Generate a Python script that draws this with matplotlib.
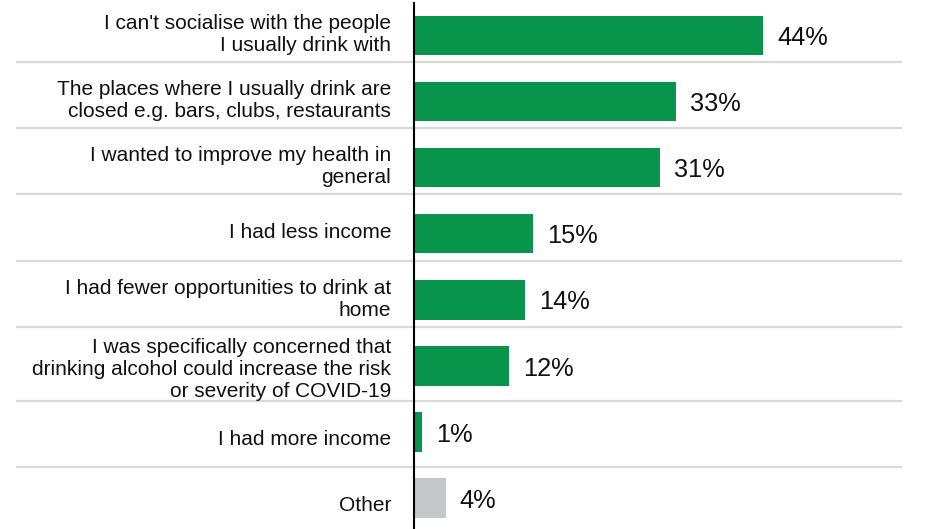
import matplotlib
matplotlib.use("Agg")
import matplotlib.pyplot as plt
from matplotlib.transforms import blended_transform_factory, ScaledTranslation

categories = [
    "I can't socialise with the people\nI usually drink with",
    "The places where I usually drink are\nclosed e.g. bars, clubs, restaurants",
    "I wanted to improve my health in\ngeneral",
    "I had less income",
    "I had fewer opportunities to drink at\nhome",
    "I was specifically concerned that\ndrinking alcohol could increase the risk\nor severity of COVID-19",
    "I had more income",
    "Other",
]
values = [44, 33, 31, 15, 14, 12, 1, 4]
value_labels = ["44%", "33%", "31%", "15%", "14%", "12%", "1%", "4%"]
GREEN = "#08944B"
GREY = "#C6C7C8"
colors = [GREEN] * 7 + [GREY]

plt.rcParams['font.family'] = ['Liberation Sans', 'DejaVu Sans']

fig = plt.figure(figsize=(9.32, 5.29), dpi=100)
ax = fig.add_axes([414 / 932, 0.0, 476 / 932, 1 - 3 / 529])

ypos = list(range(len(categories)))
ax.barh(ypos, values, height=0.6, color=colors, zorder=3)
ax.set_xlim(0, 60)
ax.set_ylim(7.47, -0.49)

ax.set_yticks(ypos)
ax.set_yticklabels(categories, fontsize=15, color="#111111", linespacing=1.2)
ax.tick_params(axis="y", length=0, pad=16.5)
ax.set_xticks([])
for s in ["top", "right", "bottom"]:
    ax.spines[s].set_visible(False)
ax.spines["left"].set_linewidth(1.5)
ax.spines["left"].set_color("black")
ax.spines["left"].set_zorder(5)

# small vertical nudges of category labels (points, positive = up)
label_shift = [3, 3, 3, 2.5, 2.5, 0, -4, -4]
for lab, dy in zip(ax.get_yticklabels(), label_shift):
    lab.set_transform(lab.get_transform() + ScaledTranslation(0, dy / 72, fig.dpi_scale_trans))

for y, v, lab in zip(ypos, values, value_labels):
    ax.annotate(lab, xy=(v, y), xytext=(10, -2), textcoords="offset points",
                ha="left", va="center", fontsize=18.3, color="#111111")

# separator lines between categories
sep_y = [0.40, 1.40, 2.40, 3.41, 4.41, 5.53, 6.53]
trans = blended_transform_factory(fig.transFigure, ax.transData)
for y in sep_y:
    ax.plot([17 / 932, 901 / 932], [y, y], transform=trans, color="#D9D9D9",
            linewidth=1.6, clip_on=False, zorder=1)

fig.savefig("out.png", dpi=100)
